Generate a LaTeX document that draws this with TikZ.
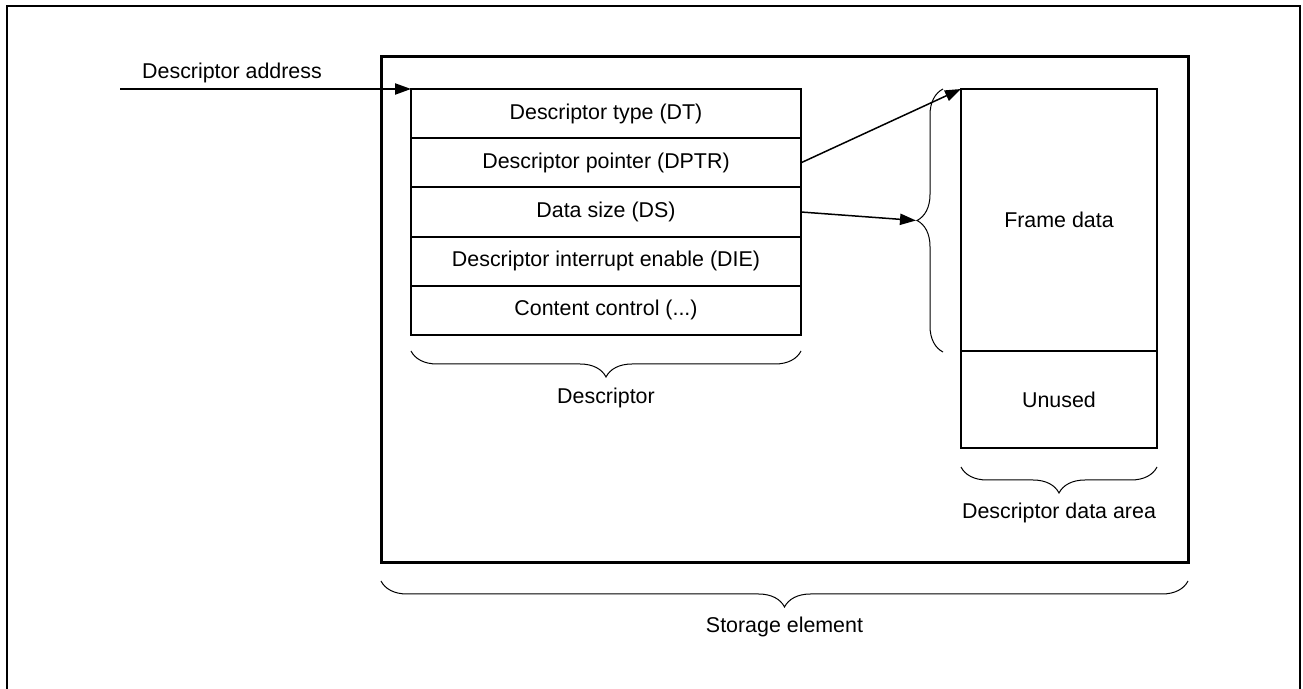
\documentclass[tikz,border=0pt]{standalone}
\usepackage{fontspec}
\setmainfont{Liberation Sans}
\usepackage{tikz}
\usetikzlibrary{arrows.meta,positioning,calc,decorations.pathreplacing}
\tikzset{
  field/.style      = {draw, line width=1pt, minimum width=195pt, minimum height=24.6pt,
                       inner sep=0pt, outer sep=0pt, anchor=north},
  area/.style       = {draw, line width=1pt, minimum width=98pt, inner sep=0pt, outer sep=0pt},
  store/.style      = {draw, line width=1.5pt, minimum width=403.5pt, minimum height=253pt,
                       inner sep=0pt, outer sep=0pt},
  sig/.style        = {-{Triangle[length=8pt,width=5.6pt]}, line width=0.75pt},
  brc/.style        = {decorate, decoration={brace, amplitude=13pt}, line width=0.5pt},
  lbl/.style        = {inner sep=1pt},
  every node/.style = {font=\fontsize{10.7}{12.8}\selectfont},
}
\begin{document}
\begin{tikzpicture}[x=0.5pt,y=-0.5pt]
  \useasboundingbox (0,0) rectangle (1303,689);
  % open page frame
  \draw[line width=1pt] (7,689) -- (7,6) -- (1300,6) -- (1300,689);
  % storage element
  \node[store] (store) at (784.5,310) {};
  % descriptor fields
  \node[field] (dt) at (606,89) {Descriptor type (DT)};
  \node[field, below=0pt of dt] (dptr) {Descriptor pointer (DPTR)};
  \node[field, below=0pt of dptr] (ds) {Data size (DS)};
  \node[field, below=0pt of ds] (die) {Descriptor interrupt enable (DIE)};
  \node[field, below=0pt of die] (cc) {Content control (...)};
  % descriptor data area
  \node[area, minimum height=131pt, anchor=north] (frame) at (1059,89) {Frame data};
  \node[area, minimum height=48.5pt, below=0pt of frame] (unused) {Unused};
  % braces
  \draw[brc] ($(cc.south east)+(0,16)$) -- ($(cc.south west)+(0,16)$);
  \node[lbl] (desc) at (606,398) {Descriptor};
  \draw[brc] ($(unused.south east)+(0,19)$) -- ($(unused.south west)+(0,19)$);
  \node[lbl] (dda) at (1059,513) {Descriptor data area};
  \draw[brc] ($(store.south east)+(0,18)$) -- ($(store.south west)+(0,18)$);
  \node[lbl] (sel) at (784.5,627) {Storage element};
  \draw[brc] (943,352) -- (943,89);
  \coordinate (fdtip) at (916,220.5);
  % pointers
  \coordinate (src) at (120,89);
  \node[lbl] (addr) at (232,73) {Descriptor address};
  \draw[sig] (src) -- (dt.north west);
  \draw[sig] (dptr.east) -- (frame.north west);
  \draw[sig] (ds.east) -- (fdtip);
\end{tikzpicture}
\end{document}
